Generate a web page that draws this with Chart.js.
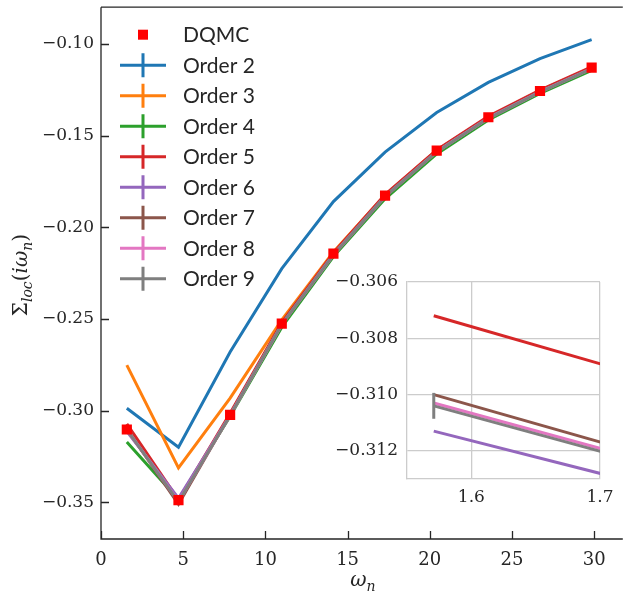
<!DOCTYPE html>
<html>
<head>
<meta charset="utf-8">
<script src="https://cdn.jsdelivr.net/npm/chart.js@4.4.1/dist/chart.umd.min.js"></script>
<style>
  body { margin: 0; background: #fff; }
  #wrap { position: relative; width: 630px; height: 592px; overflow: hidden; }
  #mainChart { position: absolute; left: 0; top: 0; }
  #insetChart { position: absolute; left: 330px; top: 270px; }
</style>
</head>
<body>
<div id="wrap">
  <canvas id="mainChart" width="630" height="592"></canvas>
  <canvas id="insetChart" width="300" height="235"></canvas>
</div>
<script>
// Matsubara frequencies
const omegaN = [1.5708, 4.7124, 7.8540, 10.9956, 14.1372, 17.2788, 20.4204, 23.5619, 26.7035, 29.8451];

const dqmc   = [-0.3103, -0.3488, -0.3023, -0.2526, -0.2144, -0.1828, -0.1582, -0.1400, -0.1257, -0.1130];
const order2 = [-0.2987, -0.3200, -0.2680, -0.2226, -0.1860, -0.1590, -0.1374, -0.1210, -0.1080, -0.0977];
const order3 = [-0.2752, -0.3312, -0.2932, -0.2505, -0.2135, -0.1825, -0.1580, -0.1400, -0.1255, -0.1130];
const order4 = [-0.3171, -0.3485, -0.3030, -0.2545, -0.2160, -0.1845, -0.1600, -0.1415, -0.1270, -0.1145];
const order5 = [-0.3072, -0.3487, -0.3015, -0.2520, -0.2140, -0.1822, -0.1578, -0.1395, -0.1252, -0.1125];
const order6 = [-0.3113, -0.3478, -0.3025, -0.2530, -0.2150, -0.1832, -0.1588, -0.1405, -0.1262, -0.1135];
const order7 = [-0.3100, -0.3510, -0.3022, -0.2528, -0.2148, -0.1830, -0.1586, -0.1403, -0.1260, -0.1133];
const order8 = [-0.3103, -0.3495, -0.3025, -0.2530, -0.2150, -0.1832, -0.1588, -0.1405, -0.1262, -0.1135];
const order9 = [-0.3104, -0.3497, -0.3026, -0.2531, -0.2151, -0.1833, -0.1589, -0.1406, -0.1263, -0.1136];
const order9Err = [0.00046, 0, 0, 0, 0, 0, 0, 0, 0, 0];

const orderNames  = ['Order 2', 'Order 3', 'Order 4', 'Order 5', 'Order 6', 'Order 7', 'Order 8', 'Order 9'];
const orderColors = ['#1f77b4', '#ff7f0e', '#2ca02c', '#d62728', '#9467bd', '#8c564b', '#e377c2', '#7f7f7f'];
const orderValues = [order2, order3, order4, order5, order6, order7, order8, order9];
const orderErrors = [null, null, null, null, null, null, null, order9Err];

const xTicks = [0, 5, 10, 15, 20, 25, 30];
const yTicks = [-0.35, -0.30, -0.25, -0.20, -0.15, -0.10];
const insetXTicks = [1.6, 1.7];
const insetYTicks = [-0.312, -0.310, -0.308, -0.306];

const AXIS_COLOR = '#262626';
const TICK_FONT = 'DejaVu Serif';
const MATH_FONT = 'DejaVu Serif';
const LEGEND_FONT = '21px Lato';

Chart.defaults.font.family = TICK_FONT;
Chart.defaults.font.size = 17;
Chart.defaults.color = AXIS_COLOR;

function minusFmt(digits) {
    return v => (v < 0 ? '\u2212' : '') + Math.abs(v).toFixed(digits);
}

function toPoints(ys) {
    return omegaN.map((x, i) => ({ x: x, y: ys[i] }));
}

function orderDatasets() {
    const list = [];
    for (let i = 0; i < orderValues.length; i++) {
        list.push({
            label: orderNames[i],
            data: toPoints(orderValues[i]),
            errors: orderErrors[i],
            borderColor: orderColors[i],
            backgroundColor: orderColors[i],
            borderWidth: 3,
            pointRadius: 0,
            tension: 0,
            order: orderValues.length - i   // later orders on top, like matplotlib
        });
    }
    return list;
}

// vertical error bars, drawn with each dataset
const errorBars = {
    id: 'errorBars',
    afterDatasetDraw(chart, args) {
        const ds = chart.data.datasets[args.index];
        if (!ds.errors) return;
        const ctx = chart.ctx, a = chart.chartArea;
        const xs = chart.scales.x, ys = chart.scales.y;
        ctx.save();
        ctx.beginPath();
        ctx.rect(a.left, a.top, a.right - a.left, a.bottom - a.top);
        ctx.clip();
        ctx.strokeStyle = ds.borderColor;
        ctx.lineWidth = 3;
        ds.data.forEach((p, i) => {
            const e = ds.errors[i];
            if (!e) return;
            const px = xs.getPixelForValue(p.x);
            ctx.beginPath();
            ctx.moveTo(px, ys.getPixelForValue(p.y - e));
            ctx.lineTo(px, ys.getPixelForValue(p.y + e));
            ctx.stroke();
        });
        ctx.restore();
    }
};

// spines + inward tick marks (matplotlib style)
const spines = {
    id: 'spines',
    afterDraw(chart) {
        const ctx = chart.ctx, a = chart.chartArea;
        ctx.save();
        ctx.strokeStyle = AXIS_COLOR;
        ctx.lineWidth = 1.3;
        ctx.beginPath();
        ctx.moveTo(a.left, a.top);
        ctx.lineTo(a.right, a.top);
        ctx.moveTo(a.left, a.top);
        ctx.lineTo(a.left, a.bottom);
        ctx.lineTo(a.right, a.bottom);
        xTicks.forEach(t => {
            const px = Math.round(chart.scales.x.getPixelForValue(t)) + 0.5;
            ctx.moveTo(px, a.bottom);
            ctx.lineTo(px, a.bottom - 8);
        });
        yTicks.forEach(t => {
            const py = Math.round(chart.scales.y.getPixelForValue(t)) + 0.5;
            ctx.moveTo(a.left, py);
            ctx.lineTo(a.left + 8, py);
        });
        ctx.stroke();
        ctx.restore();
    }
};

// math-ish text: [text, 'r' roman | 'i' italic | 's' italic subscript]
function drawMath(ctx, parts, x, y) {
    const fontFor = p => (p[1] === 'r' ? '' : 'italic ') + (p[1] === 's' ? '14px ' : '20px ') + MATH_FONT;
    let w = 0;
    parts.forEach(p => { ctx.font = fontFor(p); w += ctx.measureText(p[0]).width; });
    let cx = x - w / 2;
    parts.forEach(p => {
        ctx.font = fontFor(p);
        ctx.fillText(p[0], cx, p[1] === 's' ? y + 5 : y);
        cx += ctx.measureText(p[0]).width;
    });
}

const axisTitles = {
    id: 'axisTitles',
    afterDraw(chart) {
        const ctx = chart.ctx, a = chart.chartArea;
        ctx.save();
        ctx.fillStyle = AXIS_COLOR;
        ctx.textBaseline = 'alphabetic';
        drawMath(ctx, [['\u03c9', 'i'], ['n', 's']], (a.left + a.right) / 2 + 1, 586);
        ctx.translate(27, (a.top + a.bottom) / 2 + 2);
        ctx.rotate(-Math.PI / 2);
        drawMath(ctx, [['\u03a3', 'r'], ['loc', 's'], ['(', 'r'], ['i', 'i'], ['\u03c9', 'i'], ['n', 's'], [')', 'r']], 0, 0);
        ctx.restore();
    }
};

// legend without frame, errorbar-style handles
const mplLegend = {
    id: 'mplLegend',
    afterDraw(chart) {
        const ctx = chart.ctx, a = chart.chartArea;
        const x0 = a.left + 19, textX = a.left + 82, rowH = 30.5, y0 = a.top + 27.5;
        ctx.save();
        ctx.font = LEGEND_FONT;
        ctx.textBaseline = 'middle';
        // DQMC
        ctx.fillStyle = '#ff0000';
        ctx.fillRect(x0 + 18, y0 - 5, 10, 10);
        ctx.fillStyle = AXIS_COLOR;
        ctx.fillText('DQMC', textX, y0 + 1);
        for (let i = 0; i < orderNames.length; i++) {
            const y = y0 + (i + 1) * rowH;
            ctx.strokeStyle = orderColors[i];
            ctx.lineWidth = 3;
            ctx.beginPath();
            ctx.moveTo(x0, y);
            ctx.lineTo(x0 + 46, y);
            ctx.moveTo(x0 + 23, y - 12);
            ctx.lineTo(x0 + 23, y + 12);
            ctx.stroke();
            ctx.fillText(orderNames[i], textX, y + 1);
        }
        ctx.restore();
    }
};

function fixedScale(width, height) {
    return s => {
        if (width !== null) s.width = width;
        if (height !== null) s.height = height;
        s.paddingLeft = 0; s.paddingRight = 0; s.paddingTop = 0; s.paddingBottom = 0;
    };
}

const mainDatasets = [{
    label: 'DQMC',
    data: toPoints(dqmc),
    showLine: false,
    pointStyle: 'rect',
    pointRadius: 7.2,
    pointBackgroundColor: '#ff0000',
    pointBorderWidth: 0,
    backgroundColor: '#ff0000',
    order: 0
}].concat(orderDatasets());

new Chart(document.getElementById('mainChart'), {
    type: 'line',
    data: { datasets: mainDatasets },
    options: {
        responsive: false,
        animation: false,
        devicePixelRatio: 1,
        layout: { padding: { top: 6, right: 0, left: 0, bottom: 0 } },
        plugins: { legend: { display: false }, tooltip: { enabled: false } },
        scales: {
            x: {
                type: 'linear',
                min: 0, max: 31.74,
                afterBuildTicks: s => { s.ticks = xTicks.map(v => ({ value: v })); },
                afterFit: fixedScale(null, 53),
                grid: { display: false, drawTicks: false },
                border: { display: false },
                ticks: { padding: 11, font: { size: 18 }, callback: v => String(v) }
            },
            y: {
                type: 'linear',
                min: -0.37, max: -0.08,
                afterBuildTicks: s => { s.ticks = yTicks.map(v => ({ value: v })); },
                afterFit: fixedScale(101, null),
                grid: { display: false, drawTicks: false },
                border: { display: false },
                ticks: { padding: 7, callback: minusFmt(2) }
            }
        }
    },
    plugins: [errorBars, spines, axisTitles, mplLegend]
});

// inset zoom near the first Matsubara frequency
new Chart(document.getElementById('insetChart'), {
    type: 'line',
    data: { datasets: orderDatasets() },
    options: {
        responsive: false,
        animation: false,
        devicePixelRatio: 1,
        layout: { padding: { top: 12, right: 30, left: 0, bottom: 0 } },
        plugins: { legend: { display: false }, tooltip: { enabled: false } },
        scales: {
            x: {
                type: 'linear',
                min: 1.55, max: 1.7,
                afterBuildTicks: s => { s.ticks = insetXTicks.map(v => ({ value: v })); },
                afterFit: fixedScale(null, 26),
                grid: { color: '#cccccc', lineWidth: 1.3, drawTicks: false },
                border: { color: '#cccccc', width: 1.3 },
                ticks: { padding: 8, callback: v => v.toFixed(1) }
            },
            y: {
                type: 'linear',
                min: -0.313, max: -0.306,
                afterBuildTicks: s => { s.ticks = insetYTicks.map(v => ({ value: v })); },
                afterFit: fixedScale(77, null),
                grid: { color: '#cccccc', lineWidth: 1.3, drawTicks: false },
                border: { color: '#cccccc', width: 1.3 },
                ticks: { padding: 9, callback: minusFmt(3) }
            }
        }
    },
    plugins: [errorBars]
});
</script>
</body>
</html>
